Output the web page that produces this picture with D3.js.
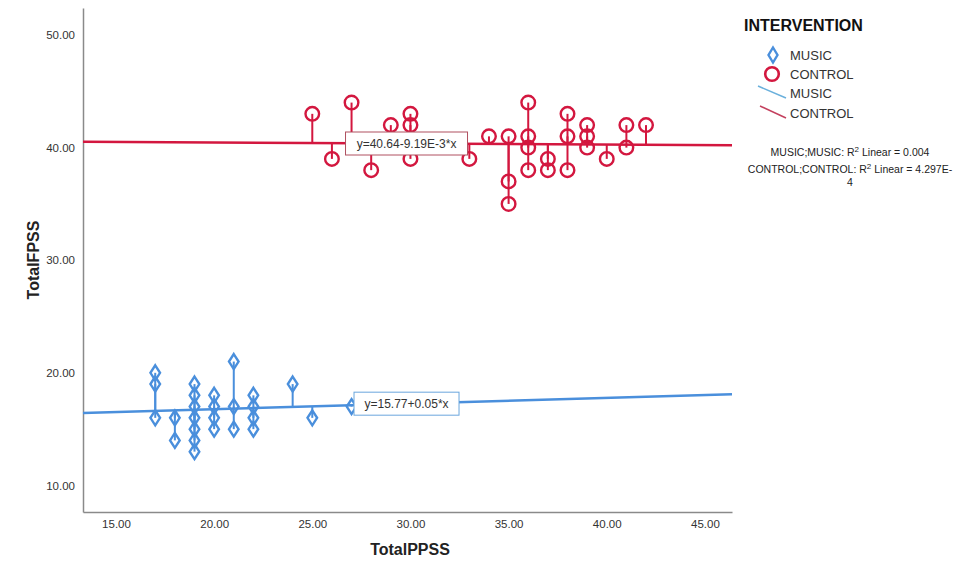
<!DOCTYPE html>
<html>
<head>
<meta charset="utf-8">
<script src="https://cdn.jsdelivr.net/npm/d3@7"></script>
<style>
  body { margin: 0; background: #fff; }
  svg { font-family: "Liberation Sans", Arial, sans-serif; }
</style>
</head>
<body>
<div id="chart"></div>
<script>
// MUSIC group (diamonds)
const musicX = [17, 17, 17, 18, 18, 19, 19, 19, 19, 19, 19, 19, 20, 20, 20, 20, 21, 21, 21, 22, 22, 22, 22, 24, 25, 27];
const musicY = [20, 19, 16, 16, 14, 19, 18, 17, 16, 15, 14, 13, 18, 17, 16, 15, 21, 17, 15, 18, 17, 16, 15, 19, 16, 17];
// CONTROL group (circles)
const controlX = [25, 26, 27, 28, 29, 30, 30, 30, 33, 34, 35, 35, 35, 36, 36, 36, 36, 37, 37, 38, 38, 38, 39, 39, 39, 40, 41, 41, 42];
const controlY = [43, 39, 44, 38, 42, 43, 42, 39, 39, 41, 41, 37, 35, 44, 41, 40, 38, 39, 38, 43, 41, 38, 42, 41, 40, 39, 42, 40, 42];
// linear fits shown on the chart
const musicFit = { intercept: 15.77, slope: 0.05, label: "y=15.77+0.05*x", r2: "0.004" };
const controlFit = { intercept: 40.64, slope: -0.00919, label: "y=40.64-9.19E-3*x", r2: "4.297E-" };
const xTicks = [15, 20, 25, 30, 35, 40, 45];
const yTicks = [10, 20, 30, 40, 50];

const W = 966, H = 572;
const blue = "#4a8fdc", red = "#d3173f";

const svg = d3.select("#chart").append("svg").attr("width", W).attr("height", H);
svg.append("rect").attr("width", W).attr("height", H).attr("fill", "#fff");

const x = d3.scaleLinear().domain([13.32, 46.38]).range([83, 732]);
const y = d3.scaleLinear().domain([7.64, 52.4]).range([512, 8]);

// axes
const xAxis = svg.append("g").attr("transform", "translate(0,512)")
    .call(d3.axisBottom(x).tickValues(xTicks).tickSize(0).tickPadding(8).tickFormat(d3.format(".2f")));
const yAxis = svg.append("g").attr("transform", "translate(83,0)")
    .call(d3.axisLeft(y).tickValues(yTicks).tickSize(0).tickPadding(8).tickFormat(d3.format(".2f")));
[xAxis, yAxis].forEach(a => {
    a.select(".domain").attr("stroke", "#8a8a8a").attr("stroke-width", 1.5);
    a.selectAll("text").attr("fill", "#333").style("font-size", "11.5px");
});

svg.append("text").attr("x", 410).attr("y", 555).attr("text-anchor", "middle")
    .style("font-size", "16px").style("font-weight", "bold").attr("fill", "#222").text("TotalPPSS");
svg.append("text").attr("transform", "translate(39,260) rotate(-90)").attr("text-anchor", "middle")
    .style("font-size", "16px").style("font-weight", "bold").attr("fill", "#222").text("TotalFPSS");

const fitY = (f, v) => f.intercept + f.slope * v;

function drawGroup(xs, ys, fit, color, shape) {
    const pts = xs.map((v, i) => ({ x: v, y: ys[i] }));
    const g = svg.append("g");
    // fit line across the whole x range
    const [x0, x1] = x.domain();
    g.append("line")
        .attr("x1", x(x0)).attr("y1", y(fitY(fit, x0)))
        .attr("x2", x(x1)).attr("y2", y(fitY(fit, x1)))
        .attr("stroke", color).attr("stroke-width", 2.5);
    // residual spikes
    g.selectAll(".spike").data(pts).enter().append("line")
        .attr("x1", d => x(d.x)).attr("x2", d => x(d.x))
        .attr("y1", d => y(fitY(fit, d.x))).attr("y2", d => y(d.y))
        .attr("stroke", color).attr("stroke-width", 2);
    // markers
    if (shape === "circle") {
        g.selectAll(".m").data(pts).enter().append("circle")
            .attr("cx", d => x(d.x)).attr("cy", d => y(d.y)).attr("r", 6.8)
            .attr("fill", "none").attr("stroke", color).attr("stroke-width", 2.4);
    } else {
        g.selectAll(".m").data(pts).enter().append("path")
            .attr("transform", d => `translate(${x(d.x)},${y(d.y)})`)
            .attr("d", "M0,-7.5L4.8,0L0,7.5L-4.8,0Z")
            .attr("fill", "none").attr("stroke", color).attr("stroke-width", 2.4);
    }
}

drawGroup(musicX, musicY, musicFit, blue, "diamond");
drawGroup(controlX, controlY, controlFit, red, "circle");

// equation labels placed on the fit lines
function fitLabel(fit, at, w, border) {
    const cx = x(at), cy = y(fitY(fit, at));
    const g = svg.append("g").attr("transform", `translate(${cx},${cy})`);
    g.append("rect").attr("x", -w / 2).attr("y", -11.5).attr("width", w).attr("height", 23)
        .attr("fill", "#fff").attr("stroke", border).attr("stroke-width", 1);
    g.append("text").attr("text-anchor", "middle").attr("dy", "0.35em")
        .style("font-size", "12px").attr("fill", "#333").text(fit.label);
}
fitLabel(controlFit, 29.8, 122, "#b05060");
fitLabel(musicFit, 29.8, 105, "#6aa6dd");

// legend
const lg = svg.append("g");
lg.append("text").attr("x", 744).attr("y", 31).style("font-size", "16px").style("font-weight", "bold")
    .attr("fill", "#111").text("INTERVENTION");
lg.append("path").attr("transform", "translate(773,55)").attr("d", "M0,-7.5L4.5,0L0,7.5L-4.5,0Z")
    .attr("fill", "none").attr("stroke", blue).attr("stroke-width", 2.4);
lg.append("circle").attr("cx", 772).attr("cy", 74).attr("r", 6.8)
    .attr("fill", "none").attr("stroke", red).attr("stroke-width", 2.6);
lg.append("line").attr("x1", 758).attr("y1", 86).attr("x2", 786).attr("y2", 98)
    .attr("stroke", "#6ab0dc").attr("stroke-width", 1.5);
lg.append("line").attr("x1", 760).attr("y1", 106).attr("x2", 786).attr("y2", 118)
    .attr("stroke", "#c4405e").attr("stroke-width", 1.5);
const items = ["MUSIC", "CONTROL", "MUSIC", "CONTROL"];
const itemY = [55, 74, 93, 113];
items.forEach((t, i) => {
    lg.append("text").attr("x", 790).attr("y", itemY[i]).attr("dy", "0.35em")
        .style("font-size", "13px").attr("fill", "#333").text(t);
});

function r2Line(yy, name, val) {
    const t = lg.append("text").attr("x", 850).attr("y", yy).attr("text-anchor", "middle")
        .style("font-size", "10.5px").attr("fill", "#222");
    t.append("tspan").text(`${name};${name}: R`);
    t.append("tspan").attr("dy", "-4").style("font-size", "8px").text("2");
    t.append("tspan").attr("dy", "4").text(` Linear = ${val}`);
}
r2Line(156, "MUSIC", musicFit.r2);
r2Line(173, "CONTROL", controlFit.r2);
lg.append("text").attr("x", 850).attr("y", 186).attr("text-anchor", "middle")
    .style("font-size", "10.5px").attr("fill", "#222").text("4");
</script>
</body>
</html>
